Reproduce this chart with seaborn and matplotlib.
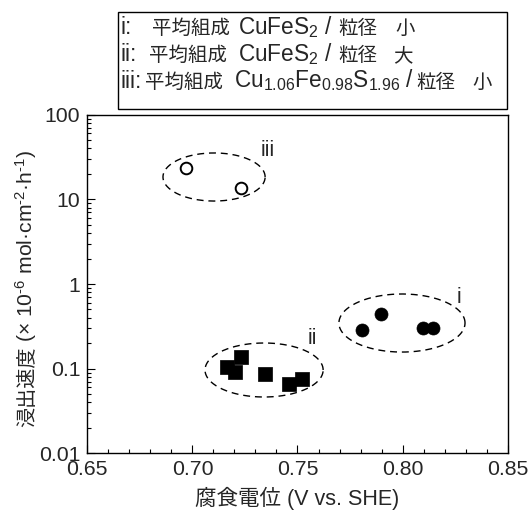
import numpy as np
import pandas as pd
import matplotlib
matplotlib.use("Agg")
import matplotlib.pyplot as plt
import matplotlib.ticker as mticker
from matplotlib.transforms import IdentityTransform
import seaborn as sns
from matplotlib.patches import Rectangle

# ---------------- data ----------------
# i: CuFeS2, small grain (filled circles)
i_potential = [0.7805, 0.7897, 0.8099, 0.8145]
i_rate = [0.286, 0.438, 0.300, 0.300]
# ii: CuFeS2, large grain (filled squares)
ii_potential = [0.7166, 0.7203, 0.7231, 0.7347, 0.7461, 0.7521]
ii_rate = [0.104, 0.092, 0.136, 0.086, 0.065, 0.075]
# iii: Cu1.06Fe0.98S1.96, small grain (open circles)
iii_potential = [0.697, 0.7231]
iii_rate = [23.4, 13.6]

group_names = ["i", "ii", "iii"]
legend_prefix = ["i:", "ii:", "iii:"]
legend_comp = ["平均組成", "平均組成", "平均組成"]
legend_formula = ["CuFeS$_{2}$ /", "CuFeS$_{2}$ /", "Cu$_{1.06}$Fe$_{0.98}$S$_{1.96}$ /"]
legend_size_word = ["粒径", "粒径", "粒径"]
legend_size_val = ["小", "大", "小"]
x_ticks = [0.65, 0.70, 0.75, 0.80, 0.85]
x_ticklabels = ["0.65", "0.70", "0.75", "0.80", "0.85"]
y_ticks = [0.01, 0.1, 1, 10, 100]
y_ticklabels = ["0.01", "0.1", "1", "10", "100"]
x_label = "腐食電位 (V vs. SHE)"
y_label_cjk = "浸出速度"
y_label_unit = "(× 10$^{\u20106}$ mol·cm$^{\u20102}$·h$^{\u20101}$)"

# ---------------- style ----------------
sns.set_style("ticks")
LAT = "Liberation Sans"
CJK = "Noto Sans CJK JP"
plt.rcParams["font.family"] = [LAT, CJK]
plt.rcParams["mathtext.fontset"] = "custom"
plt.rcParams["mathtext.rm"] = LAT
plt.rcParams["mathtext.it"] = LAT + ":italic"
plt.rcParams["mathtext.default"] = "regular"

W, H = 528, 514
fig = plt.figure(figsize=(W / 100, H / 100), dpi=100)
ax = fig.add_axes([87.3 / W, 1 - 453.3 / H, (507.7 - 87.3) / W, (453.3 - 114.7) / H])

df = pd.concat([
    pd.DataFrame({"E": i_potential, "rate": i_rate, "g": "i"}),
    pd.DataFrame({"E": ii_potential, "rate": ii_rate, "g": "ii"}),
    pd.DataFrame({"E": iii_potential, "rate": iii_rate, "g": "iii"}),
])

ms = 88
sns.scatterplot(data=df[df.g == "i"], x="E", y="rate", marker="o", s=ms,
                color="black", edgecolor="black", linewidth=0.5, ax=ax, legend=False, zorder=3)
sns.scatterplot(data=df[df.g == "ii"], x="E", y="rate", marker="s", s=ms,
                color="black", edgecolor="black", linewidth=0.5, ax=ax, legend=False, zorder=3)
sns.scatterplot(data=df[df.g == "iii"], x="E", y="rate", marker="o", s=70,
                facecolor="white", edgecolor="black", linewidth=1.4, ax=ax, legend=False, zorder=3)

ax.set_yscale("log")
ax.set_xlim(0.65, 0.85)
ax.set_ylim(0.01, 100)

# dashed ellipses (in x / log10(y) space)
ellipses = [  # cx, a, log cy, b
    (0.7997, 0.0300, -0.461, 0.343),
    (0.7341, 0.0281, -1.016, 0.319),
    (0.7103, 0.0243, 1.264, 0.284),
]
t = np.linspace(0, 2 * np.pi, 300)
for cx, a, lcy, b in ellipses:
    ax.plot(cx + a * np.cos(t), 10 ** (lcy + b * np.sin(t)), color="black",
            lw=1.0, dashes=(5, 3.5))

# group labels
lab_pos = {"i": (0.8269, 0.70), "ii": (0.757, 0.230), "iii": (0.736, 38)}
for g in group_names:
    x, y = lab_pos[g]
    ax.text(x, y, g, ha="center", va="center", fontsize=15.5, family=LAT)

ax.set_xticks(x_ticks)
ax.set_xticklabels(x_ticklabels)
ax.set_yticks(y_ticks)
ax.set_yticklabels(y_ticklabels)
ax.xaxis.set_minor_locator(mticker.MultipleLocator(0.01))
ax.yaxis.set_minor_locator(mticker.LogLocator(base=10, subs=np.arange(2, 10)))
ax.yaxis.set_minor_formatter(mticker.NullFormatter())
ax.tick_params(which="both", direction="in", top=False, right=False, color="black",
               labelsize=15.3, width=0.8)
ax.tick_params(which="major", length=6, pad=5)
ax.tick_params(which="minor", length=3)
for sp in ax.spines.values():
    sp.set_visible(True)
    sp.set_linewidth(1.0)
    sp.set_color("black")

ax.set_xlabel("")
ax.set_ylabel("")
fig.text(297.5 / W, 1 - 498 / H, x_label, fontsize=15.5, ha="center", va="center")

renderer = fig.canvas.get_renderer()
IDT = IdentityTransform()


def put(x, y, txt, size, fam, rotation=0):
    tt = fig.text(x, y, txt, transform=IDT, fontsize=size, family=fam,
                  ha="left", va="baseline", rotation=rotation, rotation_mode="anchor")
    return tt.get_window_extent(renderer)


# legend box drawn with figure texts
fig.patches.append(Rectangle((118.3 / W, 1 - 109.3 / H), (507 - 118.3) / W, (109.3 - 11.7) / H,
                             transform=fig.transFigure, fill=False, edgecolor="black", lw=1.0))
baselines = [34, 61, 87.5]
prefix_x = [121, 121, 121]
comp_x = [152, 149, 145]
formula_x = [238, 238, 234]
word_x = [338, 338, 416]
val_x = [395, 393, 472]
LEG_LAT = 16.3
LEG_CJK = 14
for k in range(3):
    yb = H - baselines[k]
    put(prefix_x[k], yb, legend_prefix[k], LEG_LAT, LAT)
    put(comp_x[k], yb, legend_comp[k], LEG_CJK, CJK)
    put(formula_x[k], yb, legend_formula[k], LEG_LAT, LAT)
    put(word_x[k], yb, legend_size_word[k], LEG_CJK, CJK)
    put(val_x[k], yb, legend_size_val[k], LEG_CJK, CJK)

# y label (rotated): CJK part then unit part
x_base, y_start = 33, H - 427
bb = put(x_base, y_start, y_label_cjk, 14.5, CJK, rotation=90)
put(x_base, y_start + bb.height + 4, y_label_unit, 15.2, LAT, rotation=90)

fig.savefig("out.png", dpi=100)
